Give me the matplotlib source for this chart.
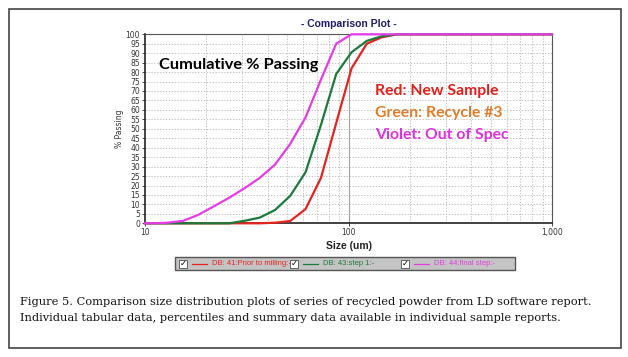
import numpy as np
import matplotlib.pyplot as plt
from matplotlib.patches import Rectangle
from matplotlib.ticker import FixedLocator, NullFormatter

# size classes (um) and cumulative % passing for the three samples
sizes = [10.0, 10.9, 12.9, 15.4, 18.3, 21.8, 25.9, 30.8, 36.6, 43.5, 51.7,
         61.5, 73.2, 87.0, 103.5, 123.0, 146.3, 174.0, 206.9, 1000.0]
new_sample = [0, 0, 0, 0, 0, 0, 0, 0, 0, 0.3, 1.2,
              7.5, 24, 53, 82, 95, 98.5, 100, 100, 100]
recycle3 = [0, 0, 0, 0, 0, 0, 0, 1.3, 3, 7, 14.5,
            27, 52, 79, 90.5, 96.5, 99, 100, 100, 100]
out_of_spec = [0, 0, 0.3, 1.3, 4.5, 9, 13.5, 18.5, 24, 31, 42,
               56, 76, 95, 100, 100, 100, 100, 100, 100]

legend_names = ["DB: 41:Prior to milling:-", "DB: 43:step 1:-", "DB: 44:final step:-"]
line_colors = ["#e5231f", "#1b7a3c", "#e63ce6"]
notes = ["Red: New Sample", "Green: Recycle #3", "Violet: Out of Spec"]
note_colors = ["#e0201a", "#e07d2a", "#e030e0"]
caption = ("Figure 5. Comparison size distribution plots of series of recycled powder from LD software report.\n"
           "Individual tabular data, percentiles and summary data available in individual sample reports.")

W, H = 628, 357
fig = plt.figure(figsize=(W / 100, H / 100), dpi=100)
fig.patch.set_facecolor("white")

def fx(px):
    return px / W

def fy(py):
    return 1 - py / H

# outer frame
fig.patches.append(Rectangle((fx(9), fy(348)), fx(612), 339 / H, transform=fig.transFigure,
                             fill=False, edgecolor="#444444", lw=1.2))

ax = fig.add_axes([fx(145), fy(223.3), fx(552 - 145), (223.3 - 34.3) / H])
ax.set_xscale("log")
ax.set_xlim(10, 1000)
ax.set_ylim(0, 100)

for vals, c in zip([new_sample, recycle3, out_of_spec], line_colors):
    ax.plot(sizes, vals, color=c, lw=1.6, clip_on=False, zorder=3)

ax.set_yticks(np.arange(0, 101, 5))
ax.xaxis.set_major_locator(FixedLocator([10, 100, 1000]))
ax.set_xticklabels(["10", "100", "1,000"])
ax.xaxis.set_minor_locator(FixedLocator([20, 30, 40, 50, 60, 70, 80, 90,
                                         200, 300, 400, 500, 600, 700, 800, 900]))
ax.xaxis.set_minor_formatter(NullFormatter())
ax.tick_params(axis="both", labelsize=5.5, colors="#333333", length=2, width=0.6, pad=1.5)
ax.tick_params(axis="x", which="minor", length=0)

ax.grid(axis="y", which="major", ls=(0, (1.5, 2)), color="#b5b5b5", lw=0.6)
ax.grid(axis="x", which="minor", ls=(0, (1.5, 2)), color="#b5b5b5", lw=0.6)
ax.axvline(100, color="#a0a0a0", lw=0.8, zorder=1)

for s in ["left", "bottom"]:
    ax.spines[s].set_color("#222222")
    ax.spines[s].set_linewidth(1.2)
for s in ["top", "right"]:
    ax.spines[s].set_color("#555555")
    ax.spines[s].set_linewidth(0.8)

ax.set_ylabel("% Passing", fontsize=5.5, color="#333333", labelpad=1)
ax.set_xlabel("Size (um)", fontsize=7.5, fontweight="bold", color="#222222",
              family="Liberation Sans", labelpad=3)
ax.set_title("- Comparison Plot -", fontsize=7.5, fontweight="bold", color="#1c1c6a",
             family="Liberation Sans", pad=5)

ax.text(fx(159), fy(65), "Cumulative % Passing", transform=fig.transFigure,
        fontsize=11.8, fontweight="bold", family="Lato", color="black", va="center")
for i, (t, c) in enumerate(zip(notes, note_colors)):
    ax.text(fx(375), fy(91 + 22 * i), t, transform=fig.transFigure,
            fontsize=11.3, fontweight="bold", family="Lato", color=c, va="center")

# legend strip
fig.patches.append(Rectangle((fx(175), fy(270)), fx(515 - 175), 13.5 / H, transform=fig.transFigure,
                             facecolor="#c4c4c4", edgecolor="#555555", lw=1.0))
ly = fy(263.5)
for x0, name, c in zip([183, 294, 405], legend_names, line_colors):
    fig.patches.append(Rectangle((fx(x0 - 4), fy(267.5)), fx(8), 8 / H, transform=fig.transFigure,
                                 facecolor="white", edgecolor="#333333", lw=0.5))
    fig.text(fx(x0), ly, "\u2713", fontsize=6, fontweight="bold", ha="center", va="center", color="black")
    fig.add_artist(plt.Line2D([fx(x0 + 9), fx(x0 + 24)], [ly, ly], color=c, lw=0.9,
                              transform=fig.transFigure))
    fig.text(fx(x0 + 29), ly, name, fontsize=5.5, color=c, va="center", family="Liberation Sans")

fig.text(fx(20), fy(310), caption, fontsize=8.2, family="DejaVu Serif", color="#111111",
         va="center", linespacing=1.75)

fig.savefig("out.png", dpi=100)
